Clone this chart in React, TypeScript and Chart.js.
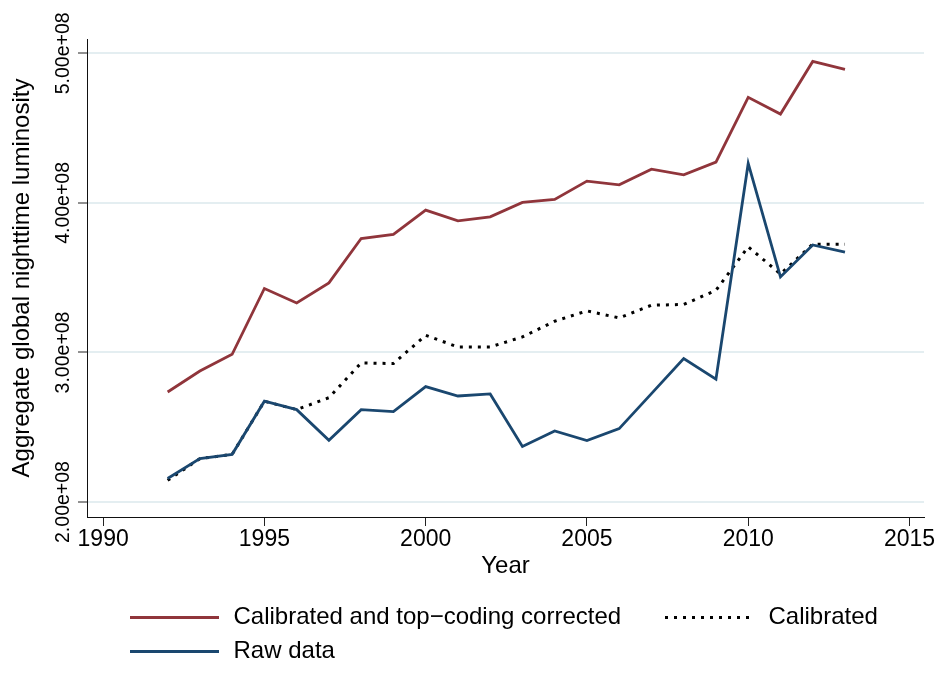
import React, { useEffect, useRef } from 'react';
import { Chart, registerables } from 'chart.js';

Chart.register(...registerables);

// ---------- data ----------
const years = [1992, 1993, 1994, 1995, 1996, 1997, 1998, 1999, 2000, 2001, 2002, 2003, 2004, 2005, 2006, 2007, 2008, 2009, 2010, 2011, 2012, 2013];
const calibratedTopcoded = [2.736e8, 2.876e8, 2.988e8, 3.428e8, 3.331e8, 3.465e8, 3.762e8, 3.789e8, 3.952e8, 3.880e8, 3.907e8, 4.003e8, 4.023e8, 4.146e8, 4.121e8, 4.226e8, 4.188e8, 4.273e8, 4.706e8, 4.594e8, 4.946e8, 4.893e8];
const calibrated = [2.145e8, 2.290e8, 2.319e8, 2.674e8, 2.618e8, 2.698e8, 2.930e8, 2.926e8, 3.115e8, 3.037e8, 3.037e8, 3.104e8, 3.209e8, 3.278e8, 3.231e8, 3.316e8, 3.321e8, 3.416e8, 3.706e8, 3.525e8, 3.724e8, 3.724e8];
const rawData = [2.157e8, 2.290e8, 2.319e8, 2.674e8, 2.618e8, 2.413e8, 2.618e8, 2.605e8, 2.772e8, 2.709e8, 2.723e8, 2.371e8, 2.475e8, 2.411e8, 2.491e8, 2.725e8, 2.959e8, 2.821e8, 4.264e8, 3.505e8, 3.719e8, 3.671e8];
const seriesLabels = ['Calibrated and top\u2212coding corrected', 'Calibrated', 'Raw data'];
const xTicks = [1990, 1995, 2000, 2005, 2010, 2015];
const yTicks = [2e8, 3e8, 4e8, 5e8];
const yTickLabels = ['2.00e+08', '3.00e+08', '4.00e+08', '5.00e+08'];
const xTitle = 'Year';
const yTitle = 'Aggregate global nighttime luminosity';

// ---------- styles ----------
const W = 938;
const H = 698;
const FONT = '"Liberation Sans", Arial, Helvetica, sans-serif';
const Y_TICK_FONT = '"Liberation Sans", Arial, sans-serif';
const Y_TICK_SIZE = 19.5;
const RED = '#90353b';
const NAVY = '#1a476f';

function widestYLabel(): number {
  const c = document.createElement('canvas').getContext('2d');
  if (!c) return 80;
  c.font = `${Y_TICK_SIZE}px ${Y_TICK_FONT}`;
  return Math.max(...yTickLabels.map((l) => c.measureText(l).width));
}

const legendPlugin = {
  id: 'stataLegend',
  afterDraw(chart: any) {
    const ctx = chart.ctx as CanvasRenderingContext2D;
    const slots = [
      { x: 130, y: 617.5 },
      { x: 665, y: 617.5 },
      { x: 130, y: 651.5 },
    ];
    const legendOrder = [0, 1, 2];
    ctx.save();
    legendOrder.forEach((di, k) => {
      const ds = chart.data.datasets[di];
      const s = slots[k];
      ctx.beginPath();
      ctx.strokeStyle = ds.borderColor;
      ctx.lineWidth = ds.borderWidth;
      ctx.lineCap = 'butt';
      ctx.setLineDash(ds.borderDash || []);
      ctx.moveTo(s.x, s.y);
      ctx.lineTo(s.x + 89, s.y);
      ctx.stroke();
      ctx.setLineDash([]);
      ctx.fillStyle = '#000';
      ctx.font = `24px ${FONT}`;
      ctx.textAlign = 'left';
      ctx.textBaseline = 'middle';
      ctx.fillText(ds.label, s.x + 103.5, s.y);
    });
    ctx.restore();
  },
};

export default function App() {
  const ref = useRef<HTMLCanvasElement | null>(null);

  useEffect(() => {
    if (!ref.current) return;
    const yPad = 14.5 - widestYLabel() / 2;
    const toXY = (vals: number[]) => years.map((yr, i) => ({ x: yr, y: vals[i] }));

    const chart = new Chart(ref.current, {
      type: 'line',
      data: {
        datasets: [
          {
            label: seriesLabels[0],
            data: toXY(calibratedTopcoded),
            borderColor: RED,
            borderWidth: 2.8,
            pointRadius: 0,
            tension: 0,
            fill: false,
            order: 2,
          },
          {
            label: seriesLabels[1],
            data: toXY(calibrated),
            borderColor: '#000000',
            borderWidth: 3,
            borderDash: [3, 6],
            borderCapStyle: 'butt',
            pointRadius: 0,
            tension: 0,
            fill: false,
            order: 1,
          },
          {
            label: seriesLabels[2],
            data: toXY(rawData),
            borderColor: NAVY,
            borderWidth: 2.8,
            pointRadius: 0,
            tension: 0,
            fill: false,
            order: 0,
          },
        ],
      },
      options: {
        animation: false,
        responsive: false,
        devicePixelRatio: 1,
        layout: { padding: { left: 0, right: 14, top: 39, bottom: 110 } },
        plugins: {
          legend: { display: false },
          tooltip: { enabled: false },
          title: { display: false },
        },
        scales: {
          x: {
            type: 'linear',
            min: 1989.5,
            max: 2015.45,
            afterBuildTicks: (scale: any) => {
              scale.ticks = xTicks.map((v) => ({ value: v }));
            },
            afterFit: (scale: any) => {
              scale.height = 71;
            },
            ticks: {
              color: '#000',
              font: { family: FONT, size: 23 },
              padding: 0,
              maxRotation: 0,
              minRotation: 0,
              autoSkip: false,
              callback: (v: any) => String(v),
            },
            grid: {
              drawOnChartArea: false,
              drawTicks: true,
              tickLength: 9,
              tickColor: '#222',
              tickWidth: 1,
            },
            border: { display: true, color: '#111', width: 1 },
            title: {
              display: true,
              text: xTitle,
              color: '#000',
              font: { family: FONT, size: 24 },
              padding: { top: 0, bottom: 7.6 },
            },
          },
          y: {
            type: 'linear',
            min: 1.9e8,
            max: 5.096e8,
            afterBuildTicks: (scale: any) => {
              scale.ticks = yTicks.map((v) => ({ value: v }));
            },
            afterFit: (scale: any) => {
              scale.width = 87;
            },
            ticks: {
              color: '#000',
              font: { family: Y_TICK_FONT, size: Y_TICK_SIZE },
              minRotation: 90,
              maxRotation: 90,
              crossAlign: 'center',
              padding: yPad,
              autoSkip: false,
              callback: (v: any) => {
                const i = yTicks.indexOf(Number(v));
                return i >= 0 ? yTickLabels[i] : '';
              },
            },
            grid: {
              drawOnChartArea: true,
              drawTicks: true,
              tickLength: 9,
              color: '#e4eef1',
              lineWidth: 2,
              tickColor: '#222',
              tickWidth: 1,
            },
            border: { display: true, color: '#111', width: 1 },
            title: {
              display: true,
              text: yTitle,
              color: '#000',
              font: { family: FONT, size: 24 },
              padding: { top: 7.6, bottom: 0 },
            },
          },
        },
      },
      plugins: [legendPlugin],
    } as any);

    return () => chart.destroy();
  }, []);

  return (
    <div style={{ position: 'absolute', left: 0, top: 0, width: W, height: H, background: '#fff' }}>
      <canvas ref={ref} width={W} height={H} style={{ display: 'block', width: W, height: H }} />
    </div>
  );
}
